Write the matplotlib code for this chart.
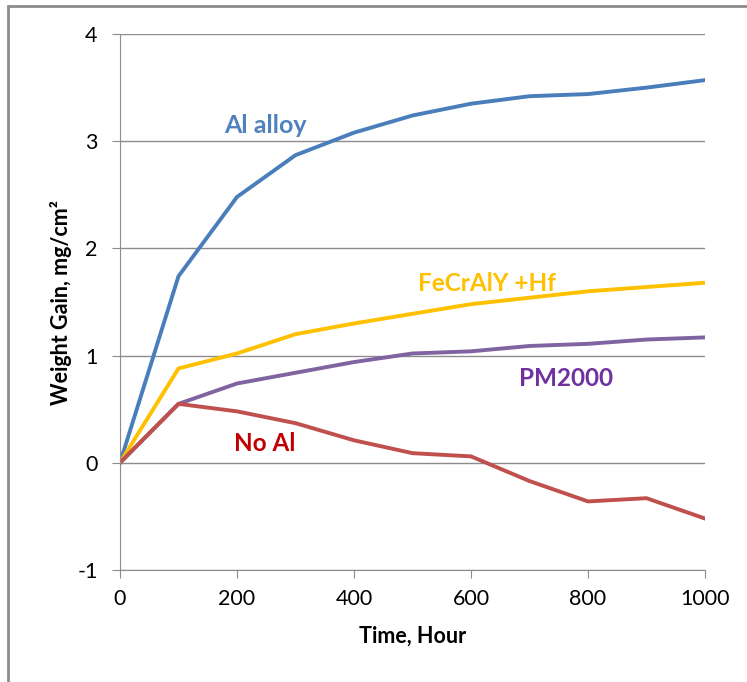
import matplotlib.pyplot as plt
from matplotlib.patches import Rectangle

# data
hours = [0, 100, 200, 300, 400, 500, 600, 700, 800, 900, 1000]
al_alloy = [0, 1.74, 2.48, 2.87, 3.08, 3.24, 3.35, 3.42, 3.44, 3.50, 3.57]
fecraly_hf = [0, 0.88, 1.02, 1.20, 1.30, 1.39, 1.48, 1.54, 1.60, 1.64, 1.68]
pm2000 = [0, 0.55, 0.74, 0.84, 0.94, 1.02, 1.04, 1.09, 1.11, 1.15, 1.17]
no_al = [0, 0.55, 0.48, 0.37, 0.21, 0.09, 0.06, -0.17, -0.36, -0.33, -0.52]

plt.rcParams['font.family'] = ['Lato', 'DejaVu Sans']
plt.rcParams['axes.unicode_minus'] = False

fig = plt.figure(figsize=(7.47, 6.82), dpi=100)
ax = fig.add_axes([0.1606, 0.1642, 0.7832, 0.7859])

# outer chart frame (cut off at right and bottom like the reference)
fig.patches.append(Rectangle((0.0107, -0.05), 1.2, 1.0412, transform=fig.transFigure,
                             fill=False, edgecolor='#8c8c8c', linewidth=2))

ax.plot(hours, al_alloy, color='#4A7EBB', lw=2.8, solid_joinstyle='round')
ax.plot(hours, fecraly_hf, color='#FFC000', lw=2.8, solid_joinstyle='round')
ax.plot(hours, pm2000, color='#8064A2', lw=2.8, solid_joinstyle='round')
ax.plot(hours, no_al, color='#C0504D', lw=2.8, solid_joinstyle='round')

ax.text(248, 3.15, 'Al alloy', color='#4F81BD', fontsize=18, fontweight='bold', ha='center', va='center')
ax.text(627, 1.67, 'FeCrAlY +Hf', color='#FFC000', fontsize=17.5, fontweight='bold', ha='center', va='center')
ax.text(762, 0.79, 'PM2000', color='#7030A0', fontsize=17.5, fontweight='bold', ha='center', va='center')
ax.text(248, 0.18, 'No Al', color='#C00000', fontsize=17.5, fontweight='bold', ha='center', va='center')

ax.set_xlim(0, 1000)
ax.set_ylim(-1, 4)
ax.set_xticks(range(0, 1001, 200))
ax.set_yticks(range(-1, 5))
ax.grid(axis='y', color='#8c8c8c', lw=1)
ax.set_axisbelow(True)
for s in ['top', 'right']:
    ax.spines[s].set_visible(False)
for s in ['left', 'bottom']:
    ax.spines[s].set_color('#8c8c8c')
ax.tick_params(colors='#8c8c8c', labelcolor='black', labelsize=15.5, length=6, direction='out')
ax.tick_params(axis='y', pad=10)
ax.tick_params(axis='x', pad=8)

ax.set_xlabel('Time, Hour', fontsize=15.5, fontweight='bold', labelpad=12)
ax.set_ylabel('Weight Gain, mg/cm²', fontsize=15.5, fontweight='bold', labelpad=4)

fig.savefig('out.png', dpi=100)
